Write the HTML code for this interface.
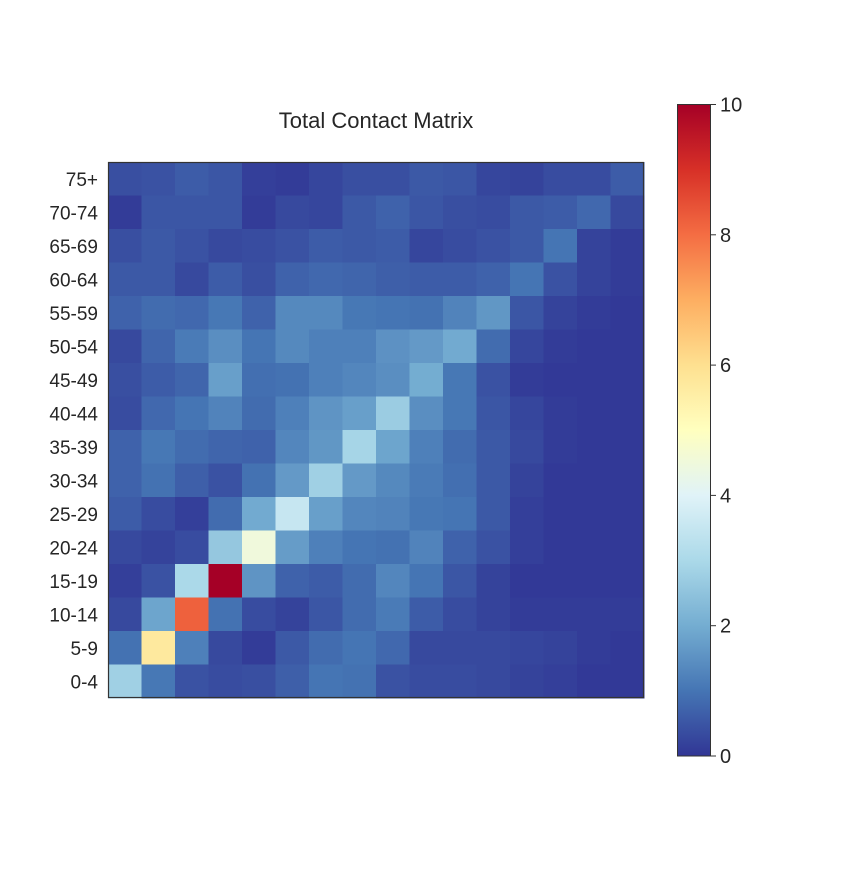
<!DOCTYPE html>
<html><head><meta charset="utf-8"><style>
body{margin:0;background:#fff;}
svg text{font-family:"Liberation Sans",sans-serif;fill:#262626;}
</style></head><body>
<svg id="chart" width="864" height="864" xmlns="http://www.w3.org/2000/svg">
<defs>
<linearGradient id="cbgrad" x1="0" y1="1" x2="0" y2="0">
<stop offset="0" stop-color="#313695"/><stop offset="0.1" stop-color="#4575b4"/><stop offset="0.2" stop-color="#74add1"/><stop offset="0.3" stop-color="#abd9e9"/><stop offset="0.4" stop-color="#e0f3f8"/><stop offset="0.5" stop-color="#ffffbf"/><stop offset="0.6" stop-color="#fee090"/><stop offset="0.7" stop-color="#fdae61"/><stop offset="0.8" stop-color="#f46d43"/><stop offset="0.9" stop-color="#d73027"/><stop offset="1" stop-color="#a50026"/>
</linearGradient>
</defs>
<text x="376" y="128" font-size="22" text-anchor="middle">Total Contact Matrix</text>
<g id="cells"></g>
<rect x="108.5" y="162.5" width="535" height="535" fill="none" stroke="#333" stroke-width="1.2"/>
<g id="ylabels"></g>
<rect x="677.5" y="104.5" width="33" height="651.5" fill="url(#cbgrad)" stroke="#333" stroke-width="1"/>
<g id="cbticks"></g>
</svg>
<script>
const ageLabels = ["75+","70-74","65-69","60-64","55-59","50-54","45-49","40-44","35-39","30-34","25-29","20-24","15-19","10-14","5-9","0-4"];
const row75 = [0.4,0.45,0.6,0.5,0.15,0.1,0.25,0.4,0.4,0.55,0.5,0.25,0.2,0.35,0.35,0.6];
const row70 = [0.1,0.5,0.5,0.5,0.1,0.3,0.25,0.55,0.7,0.5,0.4,0.35,0.55,0.6,0.8,0.3];
const row65 = [0.4,0.55,0.45,0.3,0.35,0.45,0.6,0.55,0.6,0.25,0.35,0.45,0.55,1.0,0.2,0.1];
const row60 = [0.55,0.55,0.3,0.6,0.4,0.7,0.8,0.75,0.65,0.6,0.6,0.7,1.0,0.45,0.2,0.1];
const row55 = [0.7,0.85,0.8,1.05,0.7,1.35,1.35,1.05,1.0,0.95,1.25,1.6,0.5,0.2,0.1,0.05];
const row50 = [0.3,0.75,1.1,1.45,1.0,1.35,1.2,1.2,1.5,1.65,1.95,0.85,0.25,0.1,0.05,0.05];
const row45 = [0.4,0.6,0.75,1.75,0.9,0.95,1.2,1.3,1.45,2.0,1.05,0.45,0.1,0.05,0.05,0.05];
const row40 = [0.35,0.8,1.0,1.25,0.85,1.2,1.55,1.75,2.7,1.45,1.05,0.5,0.25,0.1,0.05,0.05];
const row35 = [0.7,1.05,0.85,0.75,0.7,1.3,1.6,2.9,1.85,1.2,0.85,0.55,0.3,0.1,0.05,0.05];
const row30 = [0.7,0.95,0.65,0.45,0.95,1.65,2.8,1.65,1.35,1.1,0.9,0.55,0.2,0.05,0.05,0.05];
const row25 = [0.6,0.35,0.15,0.85,1.95,3.5,1.75,1.3,1.25,1.05,1.0,0.55,0.15,0.05,0.05,0.05];
const row20 = [0.3,0.2,0.35,2.6,4.5,1.7,1.2,1.0,0.95,1.25,0.7,0.45,0.15,0.05,0.05,0.05];
const row15 = [0.15,0.45,3.0,10,1.55,0.7,0.6,0.85,1.3,1.0,0.5,0.2,0.05,0.05,0.05,0.05];
const row10 = [0.3,1.85,8.2,0.95,0.35,0.2,0.5,0.85,1.1,0.6,0.35,0.2,0.1,0.1,0.1,0.1];
const row5 = [0.95,5.7,1.2,0.3,0.1,0.55,0.85,1.0,0.8,0.3,0.3,0.3,0.25,0.2,0.1,0.05];
const row0 = [2.8,1.05,0.45,0.35,0.4,0.65,1.0,0.95,0.45,0.35,0.35,0.3,0.2,0.15,0.05,0.05];
const cbTicks = [0,2,4,6,8,10];

const rows=[row75,row70,row65,row60,row55,row50,row45,row40,row35,row30,row25,row20,row15,row10,row5,row0];
const vmin=0,vmax=10;
const cmap=["#313695","#4575b4","#74add1","#abd9e9","#e0f3f8","#ffffbf","#fee090","#fdae61","#f46d43","#d73027","#a50026"];
function hex(h){return [1,3,5].map(i=>parseInt(h.substr(i,2),16));}
function color(v){let t=Math.max(0,Math.min(1,(v-vmin)/(vmax-vmin)))*10;let i=Math.min(9,Math.floor(t));let f=t-i;let a=hex(cmap[i]),b=hex(cmap[i+1]);return "rgb("+a.map((c,k)=>Math.round(c+(b[k]-c)*f)).join(",")+")";}
const X0=108,Y0=162,W=536,n=16,cw=W/n;
function xPos(c){return X0+c*cw;}
function yPos(r){return Y0+r*cw;}
const NS="http://www.w3.org/2000/svg";
const cells=document.getElementById('cells');
rows.forEach((row,r)=>row.forEach((v,c)=>{
 const el=document.createElementNS(NS,'rect');
 el.setAttribute('x',xPos(c));el.setAttribute('y',yPos(r));
 el.setAttribute('width',cw+0.5);el.setAttribute('height',cw+0.5);
 el.setAttribute('fill',color(v));
 
 
 cells.appendChild(el);
}));
const yl=document.getElementById('ylabels');
ageLabels.forEach((lab,r)=>{
 const t=document.createElementNS(NS,'text');
 t.setAttribute('x',98);t.setAttribute('y',yPos(r)+cw/2+7);
 t.setAttribute('text-anchor','end');t.setAttribute('font-size','19');
 t.textContent=lab;
 
 
 yl.appendChild(t);
});
const cb=document.getElementById('cbticks');
const cbTop=104.5,cbBot=756;
function cbY(v){return cbBot-(v-vmin)/(vmax-vmin)*(cbBot-cbTop);}
cbTicks.forEach(v=>{
 const l=document.createElementNS(NS,'line');
 l.setAttribute('x1',710.5);l.setAttribute('x2',716);l.setAttribute('y1',cbY(v));l.setAttribute('y2',cbY(v));
 l.setAttribute('stroke','#333');
 
 
 cb.appendChild(l);
 const t=document.createElementNS(NS,'text');
 t.setAttribute('x',720);t.setAttribute('y',cbY(v)+7);t.setAttribute('font-size','20');
 t.textContent=v;
 
 
 cb.appendChild(t);
});
</script>
</body></html>
